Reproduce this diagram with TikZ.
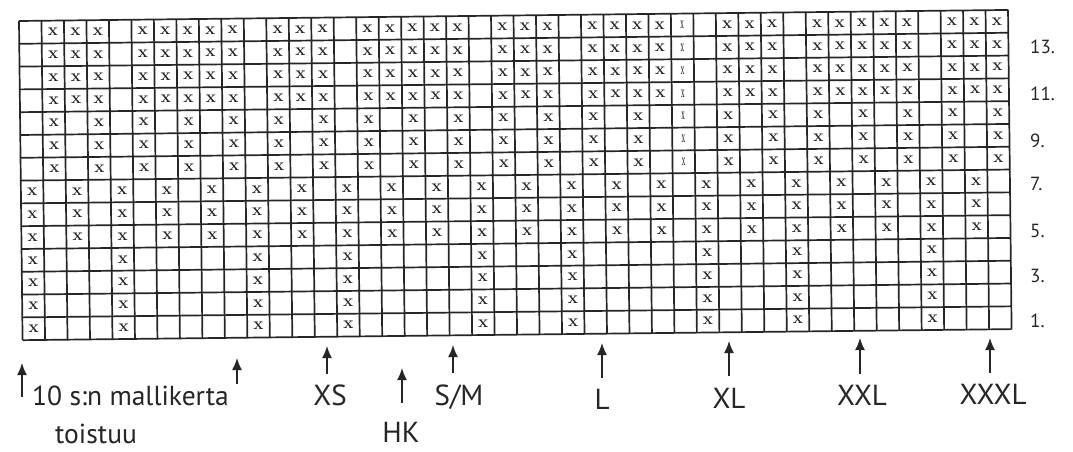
\documentclass[tikz,border=0pt]{standalone}
\usepackage{fontspec}
\newfontfamily\labfont{PT Sans}
\usetikzlibrary{arrows.meta}
\begin{document}
\begin{tikzpicture}[x=1pt,y=-1pt,
  gridline/.style={line width=1.7pt, draw=black!85},
  xmark/.style={inner sep=0pt, font=\bfseries\fontsize{17}{17}\selectfont, text=black!85},
  sizelab/.style={inner sep=0pt, anchor=base, font=\labfont\fontsize{29}{29}\selectfont, text=black!85},
  replab/.style={inner sep=0pt, anchor=base west, font=\labfont\fontsize{27.5}{27.5}\selectfont, text=black!85},
  rowlab/.style={inner sep=0pt, anchor=base west, font=\labfont\fontsize{19}{19}\selectfont, text=black!85},
  arr/.style={line width=1.5pt, draw=black!85, fill=black!85, -{Latex[length=12pt,width=10pt]}}
]
\useasboundingbox (0,0) rectangle (1073,451);
\fill[white] (0,0) rectangle (1073,451);

% chart grid (slightly rotated as in the scan)
\begin{scope}[shift={(19,21)}, rotate=0.64]
  \def\cw{22.48}
  \def\ch{22.8}
  \foreach \i in {0,...,44} \draw[gridline] (\i*\cw,0) -- (\i*\cw,14*\ch);
  \foreach \j in {0,...,14} \draw[gridline] (0,\j*\ch) -- (44*\cw,\j*\ch);
  \foreach \c in {1,...,44}{
    \foreach \r in {1,...,14}{
      \pgfmathtruncatemacro\m{mod(\c,10)}
      \pgfmathtruncatemacro\p{mod(\c,2)}
      \pgfmathtruncatemacro\show{ifthenelse(\r<5, or(\m==1,\m==5), ifthenelse(\r<8, \p==1, ifthenelse(\r<11, \p==0, and(\m!=1,\m!=5))))}
      \ifnum\show=1
        \node[xmark] (x-\c-\r) at ({(\c-0.5)*\cw},{(14.5-\r)*\ch}) {\ifnum\c=30 \scalebox{0.35}[1]{x}\else x\fi};
      \fi
    }
  }
\end{scope}

% row numbers
\node[rowlab] (r13) at (1030,53) {13.};
\node[rowlab] (r11) at (1030,100) {11.};
\node[rowlab] (r9) at (1030,147) {9.};
\node[rowlab] (r7) at (1030,190) {7.};
\node[rowlab] (r5) at (1030,237) {5.};
\node[rowlab] (r3) at (1030,282) {3.};
\node[rowlab] (r1) at (1030,327) {1.};

% arrows
\coordinate (a1b) at (22,397);  \coordinate (a1t) at (22,363);
\coordinate (a2b) at (237,384); \coordinate (a2t) at (237,358);
\coordinate (xsb) at (327,374); \coordinate (xst) at (327,346);
\coordinate (hkb) at (402,403); \coordinate (hkt) at (402,368);
\coordinate (smb) at (453,373); \coordinate (smt) at (453,345);
\coordinate (lb) at (602,378);  \coordinate (lt) at (602,343);
\coordinate (xlb) at (729,376); \coordinate (xlt) at (729,341);
\coordinate (xxlb) at (860,374); \coordinate (xxlt) at (860,338);
\coordinate (x3b) at (990,373); \coordinate (x3t) at (990,338);
\draw[arr] (a1b) -- (a1t);
\draw[arr] (a2b) -- (a2t);
\draw[arr] (xsb) -- (xst);
\draw[arr] (hkb) -- (hkt);
\draw[arr] (smb) -- (smt);
\draw[arr] (lb) -- (lt);
\draw[arr] (xlb) -- (xlt);
\draw[arr] (xxlb) -- (xxlt);
\draw[arr] (x3b) -- (x3t);

% labels
\node[replab] (rep) at (32,405) {10 s:n mallikerta};
\node[replab] (rep2) at (55,443) {toistuu};
\node[sizelab] (xs) at (330,405) {XS};
\node[sizelab] (hk) at (401,442) {HK};
\node[sizelab] (sm) at (459,405) {S/M};
\node[sizelab] (l) at (602,409) {L};
\node[sizelab] (xl) at (729,408) {XL};
\node[sizelab] (xxl) at (862,405) {XXL};
\node[sizelab] (xxxl) at (993,404) {XXXL};
\end{tikzpicture}
\end{document}
